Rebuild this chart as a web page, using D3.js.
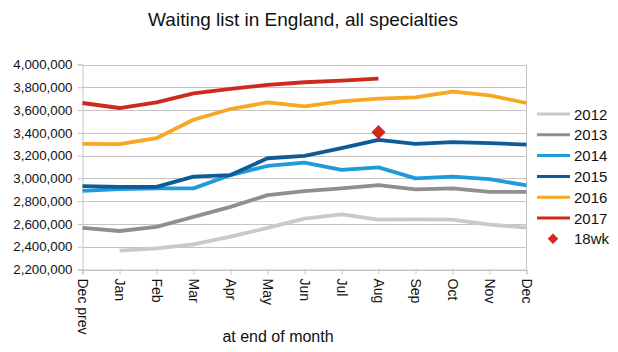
<!DOCTYPE html>
<html><head><meta charset="utf-8">
<script src="https://cdn.jsdelivr.net/npm/d3@7"></script>
<style>body{margin:0;background:#fff}svg{display:block;font-family:"Liberation Sans",Arial,sans-serif}</style>
</head><body><svg id="c" width="618" height="352"></svg>
<script>
const months = ["Dec prev","Jan","Feb","Mar","Apr","May","Jun","Jul","Aug","Sep","Oct","Nov","Dec"];
const yTicks = [2200000,2400000,2600000,2800000,3000000,3200000,3400000,3600000,3800000,4000000];
const seriesNames = ["2012","2013","2014","2015","2016","2017"];
const seriesColors = ["#c9c9c9","#8f8f8f","#1f9bd7","#0d5b98","#f7a722","#cf2a1c"];
const v2012 = [null,2365000,2385000,2421000,2488000,2565000,2647000,2685000,2638000,2641000,2638000,2594000,2568000];
const v2013 = [2565000,2538000,2574000,2662000,2750000,2853000,2888000,2912000,2941000,2903000,2912000,2882000,2882000];
const v2014 = [2891000,2906000,2912000,2912000,3029000,3109000,3138000,3074000,3097000,3000000,3015000,2994000,2938000];
const v2015 = [2932000,2926000,2926000,3015000,3029000,3177000,3197000,3265000,3338000,3303000,3318000,3309000,3297000];
const v2016 = [3303000,3300000,3353000,3515000,3609000,3667000,3632000,3676000,3700000,3712000,3762000,3729000,3662000];
const v2017 = [3662000,3618000,3668000,3747000,3786000,3821000,3844000,3859000,3876000,null,null,null,null];
const wk18Month = "Aug";
const wk18Value = 3406000;
const seriesValues = [v2012,v2013,v2014,v2015,v2016,v2017];

const svg = d3.select("#c");
const L = 82.5, R = 526.5, T = 64.5, B = 269.5;
const x = d3.scalePoint().domain(months).range([L, R]);
const y = d3.scaleLinear().domain([2200000, 4000000]).range([B, T]);

svg.append("text").attr("x", 303).attr("y", 26).attr("text-anchor","middle")
  .attr("font-size", 19).attr("fill","#111").text("Waiting list in England, all specialties");

// gridlines
svg.append("g").selectAll("line").data(yTicks).join("line")
  .attr("x1", L).attr("x2", R).attr("y1", d => Math.round(y(d))+0.5).attr("y2", d => Math.round(y(d))+0.5)
  .attr("stroke", "#c4c4c4").attr("stroke-width", 1);
svg.append("line").attr("x1", R).attr("x2", R).attr("y1", T).attr("y2", B).attr("stroke","#c4c4c4");

// y axis
const ya = svg.append("g").attr("transform", `translate(${L},0)`)
  .call(d3.axisLeft(y).tickValues(yTicks).tickSize(5).tickPadding(5).tickFormat(d3.format(",")));
ya.select(".domain").attr("stroke","#c4c4c4");
ya.selectAll(".tick line").attr("stroke","#c4c4c4");
ya.selectAll("text").attr("font-size", 13.3).attr("fill","#111").attr("font-family","Liberation Sans, Arial, sans-serif");

// x axis
const xa = svg.append("g").attr("transform", `translate(0,${B})`)
  .call(d3.axisBottom(x).tickSize(5).tickPadding(0));
xa.select(".domain").attr("stroke","#c4c4c4");
xa.selectAll(".tick line").attr("stroke","#c4c4c4");
xa.selectAll("text").attr("font-size", 14).attr("fill","#111").attr("font-family","Liberation Sans, Arial, sans-serif")
  .attr("text-anchor","start").attr("dy", null).attr("y", 0)
  .attr("transform","translate(0,9) rotate(90)").attr("dominant-baseline","central");

svg.append("text").attr("x", 278).attr("y", 342).attr("text-anchor","middle")
  .attr("font-size", 16).attr("fill","#111").text("at end of month");

// lines
const line = d3.line().defined(d => d.v != null).x(d => x(d.m)).y(d => y(d.v));
seriesValues.forEach((vals, i) => {
  const data = months.map((m, j) => ({m, v: vals[j]}));
  svg.append("path").datum(data).attr("d", line).attr("fill","none")
    .attr("stroke", seriesColors[i]).attr("stroke-width", 3.8).attr("stroke-linejoin","round");
});

// 18wk diamond
svg.append("path").attr("d", d3.symbol(d3.symbolSquare, 100)())
  .attr("transform", `translate(${x(wk18Month)},${y(wk18Value)}) rotate(45)`)
  .attr("fill", "#d0281a");

// legend
const lg = svg.append("g");
seriesNames.forEach((n, i) => {
  const yy = 114 + i * 20.8;
  lg.append("line").attr("x1", 537).attr("x2", 570).attr("y1", yy).attr("y2", yy)
    .attr("stroke", seriesColors[i]).attr("stroke-width", 3);
  lg.append("text").attr("x", 574).attr("y", yy).attr("dominant-baseline","central")
    .attr("font-size", 15).attr("fill","#111").text(n);
});
const yw = 114 + 6 * 20.8;
lg.append("path").attr("d", d3.symbol(d3.symbolSquare, 55)())
  .attr("transform", `translate(553,${yw}) rotate(45)`).attr("fill","#d0281a");
lg.append("text").attr("x", 574).attr("y", yw).attr("dominant-baseline","central")
  .attr("font-size", 15).attr("fill","#111").text("18wk");
</script></body></html>
